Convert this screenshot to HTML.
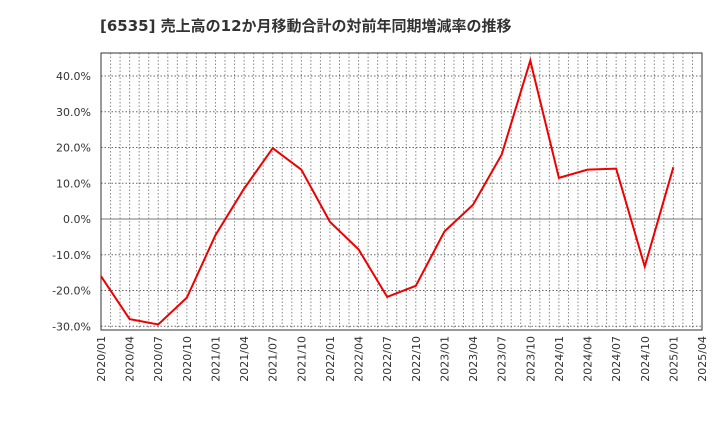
<!DOCTYPE html>
<html><head><meta charset="utf-8"><style>
body{margin:0;background:#fff;font-family:"DejaVu Sans","Noto Sans CJK JP",sans-serif;}
</style></head><body>
<svg id="c" width="720" height="440" xmlns="http://www.w3.org/2000/svg">
<text x="100" y="31" font-size="15" font-weight="bold" fill="#333" font-family="DejaVu Sans, Noto Sans CJK JP, sans-serif">[6535]  売上高の12か月移動合計の対前年同期増減率の推移</text>
<g id="grid"></g><g id="axes"></g><g id="series"></g>
</svg>
<script>
const categories=["2020/01","2020/04","2020/07","2020/10","2021/01","2021/04","2021/07","2021/10","2022/01","2022/04","2022/07","2022/10","2023/01","2023/04","2023/07","2023/10","2024/01","2024/04","2024/07","2024/10","2025/01"];
const values=[-16,-28,-29.5,-22,-4.5,8.5,19.8,13.8,-0.8,-8.5,-21.8,-18.7,-3.5,4,18,44.3,11.5,13.8,14.1,-13.3,14.5];
const xTickLabels=["2020/01","2020/04","2020/07","2020/10","2021/01","2021/04","2021/07","2021/10","2022/01","2022/04","2022/07","2022/10","2023/01","2023/04","2023/07","2023/10","2024/01","2024/04","2024/07","2024/10","2025/01","2025/04"];
const yTicks=[-30,-20,-10,0,10,20,30,40];
const NS="http://www.w3.org/2000/svg";
const L=101,R=702,T=53,B=330;
const x=i=>L+(R-L)*i/21;
const y=v=>219-v*3.575;
function mk(tag,attrs,parent){const e=document.createElementNS(NS,tag);for(const k in attrs)e.setAttribute(k,attrs[k]);document.getElementById(parent).appendChild(e);return e;}
for(let m=1;m<63;m++){const xx=L+(R-L)*m/63;
const g=mk("line",{x1:xx,x2:xx,y1:T,y2:B,stroke:"#888","stroke-dasharray":"1.5,2","stroke-width":1},"grid");

}
yTicks.forEach(v=>{const yy=y(v);
const g=mk("line",{x1:L,x2:R,y1:yy,y2:yy,stroke:v===0?"#777":"#666","stroke-dasharray":v===0?"":"1.5,2","stroke-width":1},"grid");


const t=mk("text",{x:L-10,y:yy+4,"text-anchor":"end","font-size":11,fill:"#333","font-family":"DejaVu Sans, sans-serif"},"axes");t.textContent=v.toFixed(1)+"%";

});
const fr=mk("rect",{x:L,y:T,width:R-L,height:B-T,fill:"none",stroke:"#333","stroke-width":1},"axes");


xTickLabels.forEach((s,i)=>{const xx=x(i);
const t=mk("text",{x:0,y:0,"text-anchor":"end","font-size":11,fill:"#333","font-family":"DejaVu Sans, sans-serif",transform:`translate(${xx+4},${B+6}) rotate(-90)`},"axes");t.textContent=s;

});
const p=mk("polyline",{points:values.map((v,i)=>x(i)+","+y(v)).join(" "),fill:"none",stroke:"#ee0000","stroke-width":2},"series");


</script>
</body></html>
